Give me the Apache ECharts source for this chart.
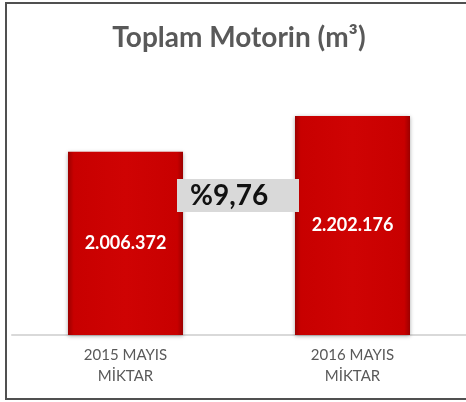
<!DOCTYPE html>
<html>
<head>
<meta charset="utf-8">
<script src="https://cdn.jsdelivr.net/npm/echarts@6/dist/echarts.min.js"></script>
<style>
  html, body { margin: 0; padding: 0; background: #fff; }
  #chart { width: 466px; height: 402px; }
</style>
</head>
<body>
<div id="chart"></div>
<script>
// data
const titleText = "Toplam Motorin (m³)";
const categories = ["2015 MAYIS\nMİKTAR", "2016 MAYIS\nMİKTAR"];
const amounts = [2006372, 2202176];

// yearly change, shown in the grey box
const change = (amounts[1] / amounts[0] - 1) * 100;
const changeText = "%" + change.toFixed(2).replace(".", ",");

const fmt = (v) => String(v).replace(/\B(?=(\d{3})+(?!\d))/g, ".");

const barColor = new echarts.graphic.LinearGradient(0, 0, 1, 0, [
    { offset: 0, color: "#9c0000" },
    { offset: 0.05, color: "#c80000" },
    { offset: 0.5, color: "#cf0303" },
    { offset: 0.95, color: "#c80000" },
    { offset: 1, color: "#9c0000" }
]);

const chart = echarts.init(document.getElementById("chart"));

const option = {
    animation: false,
    backgroundColor: "#fff",
    grid: {
        left: 12,
        right: -1,
        top: 80,
        bottom: 67
    },
    xAxis: {
        type: "category",
        data: categories,
        axisTick: { show: false },
        axisLine: {
            lineStyle: { color: "#d9d9d9", width: 2 }
        },
        axisLabel: {
            color: "#595959",
            fontFamily: "Lato",
            fontSize: 15,
            lineHeight: 21,
            margin: 10
        }
    },
    yAxis: {
        type: "value",
        min: 1000000,
        max: 2400000,
        show: false,
        splitLine: { show: false }
    },
    series: [
        {
            type: "bar",
            data: amounts,
            barWidth: 115,
            itemStyle: {
                color: barColor,
                borderColor: "rgba(255,120,120,0.5)",
                borderWidth: 0,
                shadowColor: "rgba(0,0,0,0.35)",
                shadowBlur: 4,
                shadowOffsetY: 1
            },
            label: {
                show: true,
                position: "inside",
                color: "#fff",
                fontFamily: "Lato",
                fontWeight: "bold",
                fontSize: 18,
                formatter: (p) => fmt(p.value)
            }
        }
    ],
    graphic: [
        {
            type: "rect",
            silent: true,
            shape: { x: 6, y: 3, width: 480, height: 396 },
            style: { fill: "none", stroke: "#505050", lineWidth: 2 }
        },
        {
            type: "text",
            x: 239,
            y: 38,
            style: {
                text: titleText,
                fill: "#595959",
                font: "bold 28px Lato",
                textAlign: "center",
                textVerticalAlign: "middle"
            }
        },
        {
            type: "rect",
            z: 10,
            shape: { x: 177, y: 179, width: 122, height: 33 },
            style: { fill: "#d9d9d9" }
        },
        {
            type: "text",
            z: 11,
            x: 190,
            y: 196,
            style: {
                text: changeText,
                fill: "#111",
                font: "bold 28px Lato",
                textAlign: "left",
                textVerticalAlign: "middle"
            }
        }
    ]
};

chart.setOption(option);
</script>
</body>
</html>
